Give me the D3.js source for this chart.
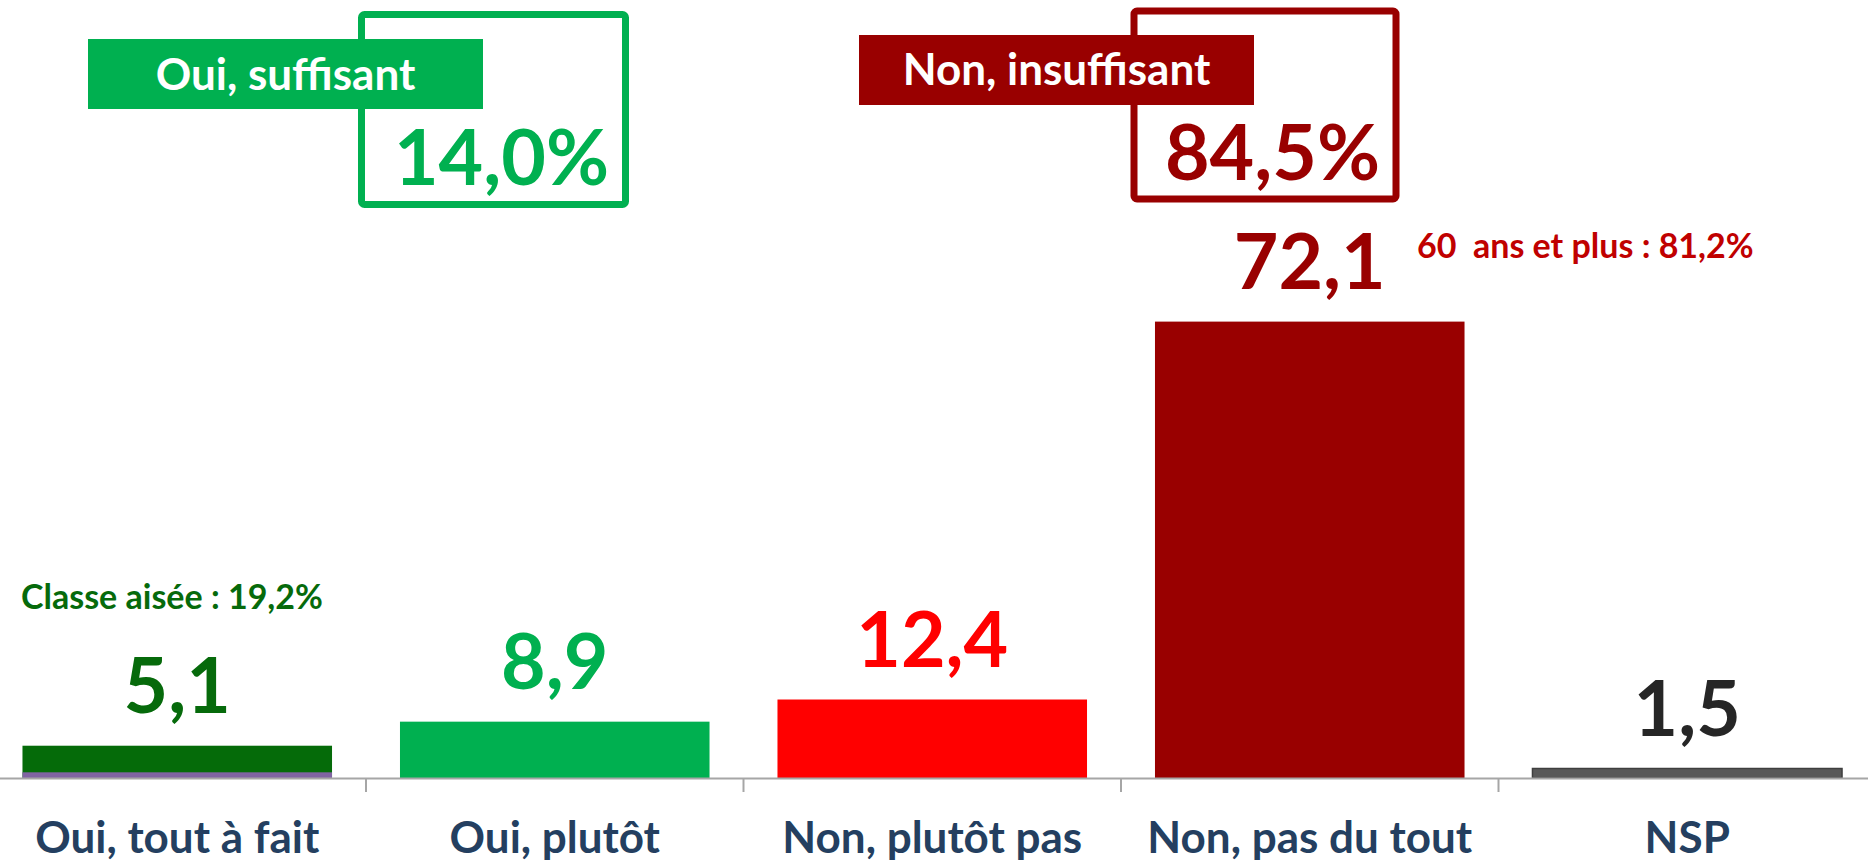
<!DOCTYPE html>
<html>
<head>
<meta charset="utf-8">
<script src="https://cdn.jsdelivr.net/npm/d3@7/dist/d3.min.js"></script>
<style>
  html, body { margin: 0; padding: 0; background: #ffffff; }
  svg { display: block; }
  text { font-family: "Lato", "Open Sans", sans-serif; font-weight: 700; }
</style>
</head>
<body>
<svg id="chart" width="1868" height="862"></svg>
<script>
// ---- data ----
const categories = ["Oui, tout à fait", "Oui, plutôt", "Non, plutôt pas", "Non, pas du tout", "NSP"];
const values = [5.1, 8.9, 12.4, 72.1, 1.5];
const baseSegment = [0.9, 0, 0, 0, 0];
const barColors = ["#056B09", "#00B050", "#FF0000", "#990000", "#595959"];
const labelColors = ["#066A0B", "#00B050", "#FF0000", "#990000", "#262626"];
const groupLabels = ["Oui, suffisant", "Non, insuffisant"];
const groupMembers = [[0, 1], [2, 3]];
const groupColors = ["#00B050", "#990000"];
const annotations = ["Classe aisée : 19,2%", "60  ans et plus : 81,2%"];
const annotationColors = ["#066A0B", "#C00000"];

// ---- setup ----
const svg = d3.select("#chart");
const fr = d3.formatLocale({ decimal: ",", thousands: " ", grouping: [3], currency: ["", " €"] });
const fmt = fr.format(".1f");

const axisY = 778;
const x = d3.scaleBand().domain(categories).range([-11.5, 1876]).paddingInner(0.18).paddingOuter(0.09);
const y = d3.scaleLinear().domain([0, 100]).range([axisY, 145]);

// ---- bars ----
svg.append("g").selectAll("rect").data(categories).join("rect")
  .attr("x", d => x(d))
  .attr("width", x.bandwidth())
  .attr("y", (d, i) => y(values[i]))
  .attr("height", (d, i) => y(0) - y(values[i]))
  .attr("fill", (d, i) => barColors[i])
  .attr("stroke", (d, i) => i === 4 ? "#3F3F3F" : "none")
  .attr("stroke-width", 1.5);

// bottom segment (purple strip)
svg.append("g").selectAll("rect").data(categories.filter((d, i) => baseSegment[i] > 0)).join("rect")
  .attr("x", d => x(d))
  .attr("width", x.bandwidth())
  .attr("y", d => y(baseSegment[categories.indexOf(d)]))
  .attr("height", d => y(0) - y(baseSegment[categories.indexOf(d)]))
  .attr("fill", "#8064A2");

// ---- axis ----
const axis = d3.axisBottom(x).tickSize(0).tickSizeOuter(0).tickPadding(44);
const gAxis = svg.append("g").attr("transform", `translate(0,${axisY})`).call(axis);
gAxis.select(".domain").attr("stroke", "#A6A6A6").attr("stroke-width", 2);
gAxis.selectAll(".tick text")
  .attr("font-size", 44)
  .attr("fill", "#243F60")
  .style("font-family", "Lato, 'Open Sans', sans-serif")
  .style("font-weight", 700);

// tick marks at band boundaries
const step = x.step();
const boundaries = categories.slice(1).map(c => x(c) - step * x.paddingInner() / 2);
svg.append("g").selectAll("line").data(boundaries).join("line")
  .attr("x1", d => d).attr("x2", d => d)
  .attr("y1", axisY).attr("y2", axisY + 14)
  .attr("stroke", "#A6A6A6").attr("stroke-width", 2);

// ---- value labels ----
svg.append("g").selectAll("text").data(categories).join("text")
  .attr("x", d => x(d) + x.bandwidth() / 2)
  .attr("y", (d, i) => y(values[i]) - 33)
  .attr("text-anchor", "middle")
  .attr("font-size", 77)
  .attr("fill", (d, i) => labelColors[i])
  .text((d, i) => fmt(values[i]));

// ---- sub-annotations ----
svg.append("text")
  .attr("x", 21).attr("y", 609)
  .attr("font-size", 34).attr("fill", annotationColors[0])
  .text(annotations[0]);
svg.append("text")
  .attr("x", 1417).attr("y", 258)
  .attr("font-size", 34).attr("fill", annotationColors[1])
  .style("white-space", "pre")
  .attr("xml:space", "preserve")
  .text(annotations[1]);

// ---- group boxes ----
const boxLayout = [
  { box: [361.5, 14.5, 264, 190], label: [88, 39, 395, 70], labelY: 90, totalX: 609, totalY: 185 },
  { box: [1134, 11, 262, 188], label: [859, 35, 395, 70], labelY: 85, totalX: 1380, totalY: 180 }
];
groupLabels.forEach((g, gi) => {
  const L = boxLayout[gi];
  const total = d3.sum(groupMembers[gi], i => values[i]);
  const gg = svg.append("g");
  gg.append("rect")
    .attr("x", L.box[0]).attr("y", L.box[1]).attr("width", L.box[2]).attr("height", L.box[3])
    .attr("rx", 3).attr("fill", "none")
    .attr("stroke", groupColors[gi]).attr("stroke-width", 7);
  gg.append("rect")
    .attr("x", L.label[0]).attr("y", L.label[1]).attr("width", L.label[2]).attr("height", L.label[3])
    .attr("fill", groupColors[gi]);
  gg.append("text")
    .attr("x", L.label[0] + L.label[2] / 2).attr("y", L.labelY)
    .attr("text-anchor", "middle").attr("font-size", 44).attr("fill", "#ffffff")
    .text(g);
  gg.append("text")
    .attr("x", L.totalX).attr("y", L.totalY)
    .attr("text-anchor", "end").attr("font-size", 77).attr("fill", groupColors[gi])
    .text(fmt(total) + "%");
});
</script>
</body>
</html>
